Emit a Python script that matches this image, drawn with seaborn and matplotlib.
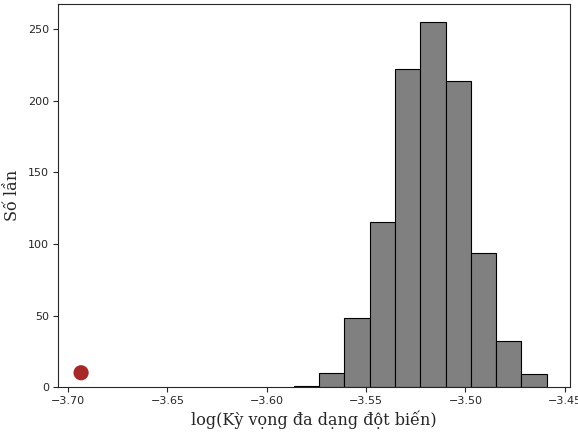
import numpy as np
import pandas as pd
import matplotlib
matplotlib.use("Agg")
import matplotlib.pyplot as plt
import seaborn as sns

# Histogram of simulated log expected mutation diversity
bin_edges = [-3.5863, -3.5736, -3.5609, -3.5482, -3.5355, -3.5227,
             -3.5100, -3.4973, -3.4846, -3.4718, -3.4591]
bin_counts = [1, 10, 48, 115, 222, 255, 214, 94, 32, 9]

# Observed value
observed_x = [-3.6935]
observed_y = [10]

sns.set_style("ticks")

centers = [(bin_edges[i] + bin_edges[i + 1]) / 2 for i in range(len(bin_counts))]
df = pd.DataFrame({"value": centers, "count": bin_counts})

fig = plt.figure(figsize=(5.78, 4.32), dpi=100)
ax = fig.add_axes([0.100, 0.104, 0.886, 0.887])

sns.histplot(data=df, x="value", weights="count", bins=bin_edges,
             color="gray", alpha=1.0, edgecolor="black", linewidth=0.8, ax=ax)
sns.scatterplot(x=observed_x, y=observed_y, s=120, color="#a82828",
                edgecolor="none", ax=ax, zorder=3)

ax.set_xlabel("log(Kỳ vọng đa dạng đột biến)", family="DejaVu Serif",
              fontsize=11.5, labelpad=3)
ax.set_ylabel("Số lần", family="DejaVu Serif", fontsize=11.5, labelpad=5)
ax.tick_params(labelsize=8, length=3.5, width=0.8, pad=3)

fig.savefig("out.png", dpi=100)
